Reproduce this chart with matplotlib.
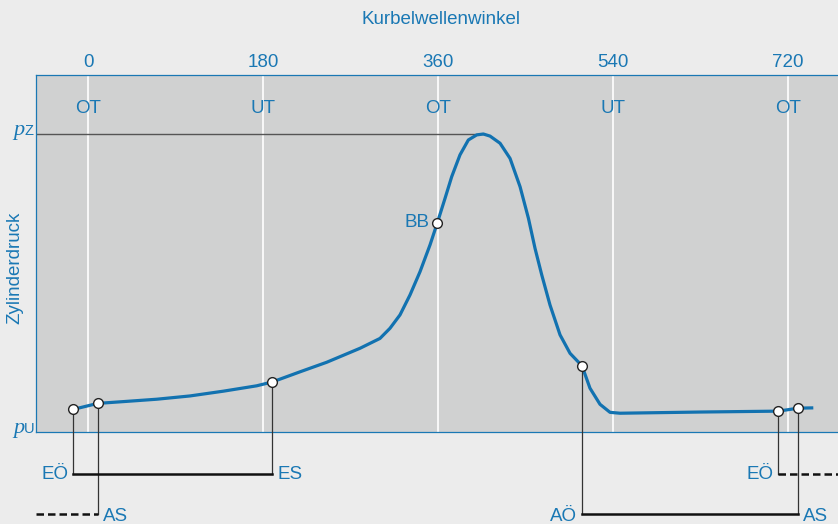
import matplotlib
matplotlib.use("Agg")
import matplotlib.pyplot as plt

# Kurbelwinkel in Grad und Zylinderdruck normiert (0 = pU, 1 = pZ)
winkel = [-15.1, 10.0, 36.3, 70.7, 104.9, 139.2, 173.5, 189.6, 218.1, 245.5,
          279.8, 300.3, 310.6, 320.9, 331.2, 341.5, 351.8, 359.3, 367.2, 374.1,
          382.6, 391.2, 399.8, 406.6, 413.5, 423.8, 434.1, 444.4, 453.0, 459.8,
          466.7, 475.2, 485.5, 495.8, 508.1, 516.3, 526.6, 536.9, 547.2, 629.5,
          710.0, 730.6, 746.0]
druck = [0.076, 0.096, 0.102, 0.110, 0.121, 0.137, 0.155, 0.168, 0.202, 0.234,
         0.281, 0.314, 0.348, 0.393, 0.460, 0.538, 0.628, 0.702, 0.784, 0.857,
         0.930, 0.980, 0.997, 1.000, 0.993, 0.969, 0.918, 0.823, 0.717, 0.616,
         0.527, 0.426, 0.326, 0.264, 0.222, 0.147, 0.093, 0.066, 0.063, 0.067,
         0.070, 0.080, 0.081]

# Steuerzeiten: Name, Index im Verlauf
punkte = {"EÖ1": 0, "AS1": 1, "ES": 7, "BB": 17, "AÖ": 34, "EÖ2": 40, "AS2": 41}
spitze = 23

takt_winkel = [0, 180, 360, 540, 720]
takt_namen = ["OT", "UT", "OT", "UT", "OT"]

blau = "#1a78b4"
linie = "#1272b0"
fs = 13.5
schrift = "Liberation Sans"

fig = plt.figure(figsize=(8.38, 5.24), dpi=100, facecolor="#ececec")
ax = fig.add_axes([36 / 838, 1 - 432 / 524, 1 - 36 / 838, (432 - 75) / 524])
ax.set_facecolor("#d0d1d1")
ax.set_xlim(-53.5, 771.4)
ax.set_ylim(0, 1.198)

for w, n in zip(takt_winkel, takt_namen):
    ax.axvline(w, color="white", lw=1.2, zorder=1)
    ax.text(w, 1.087, n, color=blau, fontsize=fs, ha="center", va="center",
            family=schrift)

# pZ-Linie bis zum Druckmaximum
ax.plot([-53.5, winkel[spitze]], [1.0, 1.0], color="#555555", lw=1.0, zorder=2)

ax.plot(winkel, druck, color=linie, lw=2.3, zorder=3,
        solid_joinstyle="round", solid_capstyle="butt")

for key, i in punkte.items():
    ax.plot(winkel[i], druck[i], "o", ms=7, mfc="white", mec="#222222", mew=1.0,
            zorder=5)

ax.text(winkel[punkte["BB"]] - 8, druck[punkte["BB"]], "BB", color=blau,
        fontsize=fs, ha="right", va="center", family=schrift)

# Steuerzeitenbalken unterhalb des Diagramms
reihe1 = -0.141
reihe2 = -0.275
kw = dict(color="#333333", lw=0.9, clip_on=False, zorder=4)
bk = dict(color="#111111", lw=1.8, clip_on=False, zorder=4)
for key in ["EÖ1", "ES", "EÖ2"]:
    i = punkte[key]
    ax.plot([winkel[i], winkel[i]], [druck[i], reihe1], **kw)
for key in ["AS1", "AÖ", "AS2"]:
    i = punkte[key]
    ax.plot([winkel[i], winkel[i]], [druck[i], reihe2], **kw)

ax.plot([winkel[punkte["EÖ1"]], winkel[punkte["ES"]]], [reihe1, reihe1], **bk)
ax.plot([winkel[punkte["AÖ"]], winkel[punkte["AS2"]]], [reihe2, reihe2], **bk)
ax.plot([-53.5, winkel[punkte["AS1"]]], [reihe2, reihe2], ls=(0, (3, 1.6)), **bk)
ax.plot([winkel[punkte["EÖ2"]], 771.4], [reihe1, reihe1], ls=(0, (3, 1.6)), **bk)

tk = dict(color=blau, fontsize=fs, va="center", family=schrift)
ax.text(winkel[punkte["EÖ1"]] - 5, reihe1, "EÖ", ha="right", **tk)
ax.text(winkel[punkte["ES"]] + 5, reihe1, "ES", ha="left", **tk)
ax.text(winkel[punkte["AS1"]] + 5, reihe2 - 0.008, "AS", ha="left", **tk)
ax.text(winkel[punkte["AÖ"]] - 5, reihe2 - 0.008, "AÖ", ha="right", **tk)
ax.text(winkel[punkte["AS2"]] + 5, reihe2 - 0.008, "AS", ha="left", **tk)
ax.text(winkel[punkte["EÖ2"]] - 5, reihe1, "EÖ", ha="right", **tk)

# Achsen
ax.xaxis.tick_top()
ax.set_xticks(takt_winkel)
ax.set_xticklabels([str(w) for w in takt_winkel], family=schrift)
ax.tick_params(axis="x", length=0, pad=3, labelsize=fs, labelcolor=blau)
ax.set_yticks([])
for s in ["left", "top", "bottom"]:
    ax.spines[s].set_color(blau)
    ax.spines[s].set_linewidth(0.9)
ax.spines["right"].set_visible(False)

fig.text(441 / 838, 1 - 19 / 524, "Kurbelwellenwinkel", color=blau, fontsize=fs,
         ha="center", va="center", family=schrift)
fig.text(15 / 838, 1 - 268 / 524, "Zylinderdruck", color=blau, fontsize=fs,
         ha="center", va="center", rotation=90, family=schrift)

# Druckbezeichnungen pZ und pU
for y_px, idx in [(134, "Z"), (432, "U")]:
    fig.text(24 / 838, 1 - (y_px + 1) / 524, "p", color=blau, fontsize=16,
             ha="right", va="baseline", style="italic", family="Liberation Serif")
    fig.text(24 / 838, 1 - (y_px + 1) / 524, idx, color=blau, fontsize=10.5,
             ha="left", va="baseline", family=schrift)

fig.savefig("out.png", dpi=100, facecolor=fig.get_facecolor())
